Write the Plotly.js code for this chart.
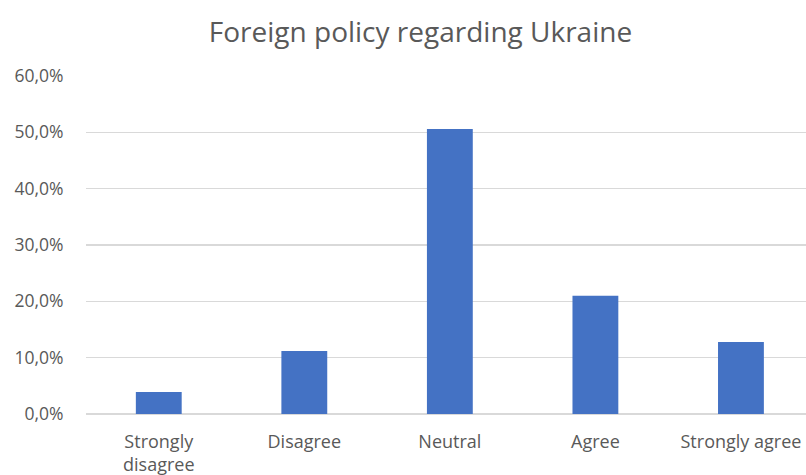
<!DOCTYPE html>
<html>
<head>
<meta charset="utf-8">
<script src="https://cdn.plot.ly/plotly-3.0.1.min.js"></script>
<style>html,body{margin:0;padding:0;background:#fff;}#chart{width:806px;height:475px;}</style>
</head>
<body>
<div id="chart"></div>
<script>
const categories = ["Strongly<br>disagree", "Disagree", "Neutral", "Agree", "Strongly agree"];
const values = [0.039, 0.112, 0.506, 0.210, 0.128];
const tickValues = [0, 0.1, 0.2, 0.3, 0.4, 0.5, 0.6];
const tickLabels = ["0,0%", "10,0%", "20,0%", "30,0%", "40,0%", "50,0%", "60,0%"];
const titleText = "Foreign policy regarding Ukraine";

const fontFamily = "Open Sans, sans-serif";
const textColor = "#595959";
const gridColor = "#d9d9d9";

const trace = {
  type: "bar",
  x: categories.map((c, i) => i),
  y: values,
  marker: { color: "#4472C4" },
  width: 0.315,
  hoverinfo: "none"
};

const layout = {
  width: 806,
  height: 475,
  margin: { l: 86, r: 0, t: 76, b: 61 },
  paper_bgcolor: "#ffffff",
  plot_bgcolor: "#ffffff",
  showlegend: false,
  title: {
    text: titleText,
    font: { family: fontFamily, size: 28, color: textColor },
    x: 0.5217, xref: "container", xanchor: "center",
    y: 0.933, yref: "container", yanchor: "middle"
  },
  xaxis: {
    range: [-0.5, 4.447],
    tickvals: categories.map((c, i) => i),
    ticktext: categories,
    showgrid: false,
    zeroline: false,
    showline: false,
    ticks: "outside",
    ticklen: 11,
    tickcolor: "rgba(0,0,0,0)",
    tickfont: { family: fontFamily, size: 18, color: textColor },
    tickangle: 0,
    fixedrange: true
  },
  yaxis: {
    range: [0, 0.6],
    tickvals: tickValues,
    ticktext: tickLabels,
    showgrid: true,
    gridcolor: gridColor,
    gridwidth: 1.5,
    zeroline: true,
    zerolinecolor: gridColor,
    zerolinewidth: 1.5,
    showline: false,
    ticks: "outside",
    ticklen: 18,
    tickcolor: "rgba(0,0,0,0)",
    tickfont: { family: fontFamily, size: 17.5, color: textColor },
    fixedrange: true
  }
};

Plotly.newPlot("chart", [trace], layout, { displayModeBar: false, staticPlot: true });
</script>
</body>
</html>
